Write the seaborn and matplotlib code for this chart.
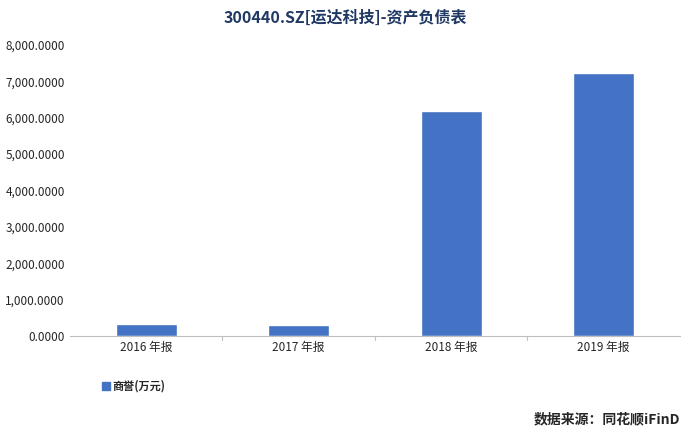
import matplotlib
matplotlib.use("Agg")
import matplotlib.pyplot as plt
import seaborn as sns
import pandas as pd

categories = ["2016 年报", "2017 年报", "2018 年报", "2019 年报"]
values = [320.0, 318.0, 6180.0, 7220.0]
series_name = "商誉(万元)"

sns.set_style("white")
plt.rcParams['font.family'] = ['Noto Sans CJK SC', 'DejaVu Sans']

df = pd.DataFrame({"cat": categories, "val": values})
fig = plt.figure(figsize=(6.91, 4.32), dpi=100)
ax = fig.add_axes([0.101, 0.222, 0.883, 0.674])
sns.barplot(data=df, x="cat", y="val", color="#4472C4", width=0.4, saturation=1, ax=ax)
ax.set_ylim(0, 8000)
ax.set_yticks(range(0, 8001, 1000))
ax.set_yticklabels([f"{v:,.4f}" for v in range(0, 8001, 1000)], fontsize=8.5)
ax.tick_params(axis='x', labelsize=8.5, length=0)
ax.tick_params(axis='y', length=0)
ax.set_xlabel(""); ax.set_ylabel("")
for s in ["top", "right", "left"]:
    ax.spines[s].set_visible(False)
ax.spines["bottom"].set_color("#bfbfbf")
for xb in [0.5, 1.5, 2.5]:
    ax.plot([xb, xb], [0, -120], color="#bfbfbf", lw=0.8, clip_on=False)
ax.set_xlim(-0.5, 3.5)

fig.text(0.5, 0.96, "300440.SZ[运达科技]-资产负债表", ha="center", va="center",
         fontsize=11.5, fontweight="bold", color="#1f3864")
fig.patches.append(matplotlib.patches.Rectangle((0.148, 0.097), 0.011, 0.018,
                   transform=fig.transFigure, color="#4472C4"))
fig.text(0.163, 0.106, series_name, fontsize=8, fontweight="bold", va="center")
fig.text(0.985, 0.03, "数据来源：同花顺iFinD", ha="right", va="center",
         fontsize=10, fontweight="bold")
fig.savefig("out.png", dpi=100)
